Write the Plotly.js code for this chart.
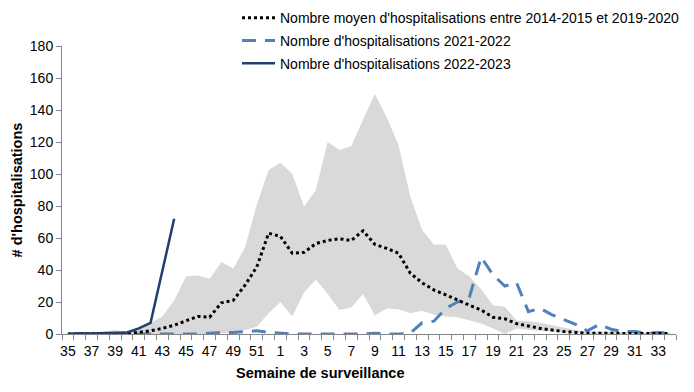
<!DOCTYPE html>
<html>
<head>
<meta charset="utf-8">
<script src="https://cdn.plot.ly/plotly-3.0.1.min.js"></script>
<style>html,body{margin:0;padding:0;background:#fff;}#chart{width:694px;height:392px;}</style>
</head>
<body>
<div id="chart"></div>
<script>
// Weeks (categories)
const weeks = [35,36,37,38,39,40,41,42,43,44,45,46,47,48,49,50,51,52,
  1,2,3,4,5,6,7,8,9,10,11,12,13,14,15,16,17,18,19,20,21,22,23,24,25,26,27,28,29,30,31,32,33,34];

// Historical range (min / max) 2014-2015 to 2019-2020
const histMin = [0,0,0,0,0,0,0,0,0,0,0,0,0,0.5,1,2.5,4.5,13,
  20,11,26,34,25,15,16.5,25,11.5,16,15.5,13,14.5,12,11,10.5,8.5,6.5,3.5,0,3.5,2.5,2,1.5,1,0.5,0,0,0,0,0,0,0,0];
const histMax = [0.5,1,1,1.5,2.5,1.5,3,7,11,21,36,36.5,34.5,45,41,54,81,102.5,
  107,100,79.5,90,120,115,117.5,134,150,135.5,118,86,65,56,56,41,36,28,18,17,8.5,8,7,5.5,4,2.5,1.5,1.5,1.5,1,1,1,1,1];

// Average 2014-2015 to 2019-2020
const avgHist = [0,0,0,0,0.3,0.5,1,2,3.5,5.5,8.5,11,10.5,19.5,21,30.5,42,63,
  61,50.5,51,56.5,58.5,59.5,58.5,64.5,56,53.5,50.5,38,32,27.5,24.5,21,18,15,10.5,9.5,6.5,5,3.5,2.5,1.5,1,0.5,0.5,0.3,0.3,0.3,0.3,0.3,0.3];

// Season 2021-2022
const s2122 = [0,0,0,0,0,0,0,0,0,0,0,0,0.5,1,1,1.5,2,1,
  0.5,0,0,0,0,0,0,0,0.5,0,0,0.5,7,8,16,20,23,48,37,30,32,14,16,12,9,6,2,6,3,1.5,1.5,0.5,1,0.5];

// Season 2022-2023 (to date)
const s2223 = [0,0.5,0.3,0.5,0.8,1,3.5,7,39.5,72];

// Tick labels (every second week)
const tickIdx = [], tickLbl = [];
weeks.forEach((w,i)=>{ if(i%2===0){ tickIdx.push(i); tickLbl.push(String(w)); } });
const xIdx = weeks.map((w,i)=>i);

const legendNames = [
  "Nombre moyen d'hospitalisations entre 2014-2015 et 2019-2020",
  "Nombre d'hospitalisations 2021-2022",
  "Nombre d'hospitalisations 2022-2023"
];

const traces = [
  {x: xIdx, y: histMin, type:'scatter', mode:'lines', line:{width:0, color:'#d9d9d9'},
   showlegend:false, hoverinfo:'skip'},
  {x: xIdx, y: histMax, type:'scatter', mode:'lines', line:{width:0, color:'#d9d9d9'},
   fill:'tonexty', fillcolor:'#d9d9d9', showlegend:false, hoverinfo:'skip'},
  {x: xIdx, y: s2122, type:'scatter', mode:'lines', name: legendNames[1], legendrank:2, legendgroup:'b',
   line:{color:'#4f81bd', width:3, dash:'14px,9px'}},
  {x: xIdx, y: avgHist, type:'scatter', mode:'lines', name: legendNames[0], legendrank:1, legendgroup:'a',
   line:{color:'#000000', width:3, dash:'dot'}},
  {x: xIdx.slice(0, s2223.length), y: s2223, type:'scatter', mode:'lines', name: legendNames[2], legendrank:3, legendgroup:'c',
   line:{color:'#1f3f6e', width:2.5}}
];

const layout = {
  width: 694, height: 392,
  margin: {l:62, r:18, t:46, b:58, autoexpand:false},
  paper_bgcolor:'#fff', plot_bgcolor:'#fff',
  font: {family:'Liberation Sans, Arial, sans-serif', size:14, color:'#000'},
  showlegend: true,
  legend: {x:0.285, xanchor:'left', y:1.152, yanchor:'top', bgcolor:'rgba(0,0,0,0)',
    font:{size:14, color:'#000'}, tracegroupgap:1.5, itemwidth:33},
  xaxis: {
    range:[-0.5, 51.5], showgrid:false, zeroline:false,
    showline:true, linecolor:'#868686', linewidth:1,
    tickmode:'array', tickvals: tickIdx, ticktext: tickLbl, ticks:'outside', ticklen:4, tickcolor:'rgba(0,0,0,0)',
    tickfont:{size:14, color:'#000'},
    minor:{tickmode:'linear', tick0:0.5, dtick:1, ticks:'outside', ticklen:5, tickcolor:'#868686', showgrid:false}
  },
  yaxis: {
    range:[0,180], dtick:20, showgrid:false, zeroline:false,
    showline:true, linecolor:'#868686', linewidth:1,
    ticks:'outside', ticklen:5, tickcolor:'#868686',
    tickfont:{size:14, color:'#000'},
    title:{text:"# d'hospitalisations", font:{size:14.5, color:'#000', weight:'bold'}, standoff:3}
  },
  annotations: [
    {text:'<b>Semaine de surveillance</b>', xref:'paper', yref:'paper', x:(320-62)/614, y:-0.1,
     xanchor:'center', yanchor:'top', showarrow:false, font:{size:14.5, color:'#000'}}
  ]
};

Plotly.newPlot('chart', traces, layout, {displayModeBar:false, staticPlot:true});
</script>
</body>
</html>
